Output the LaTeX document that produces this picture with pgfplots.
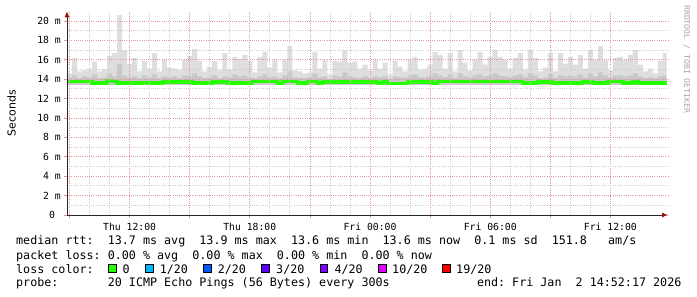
\documentclass[border=0pt]{standalone}
\usepackage{fontspec}
\usepackage{pgfplots}
\usepackage{pgfplotstable}
\pgfplotsset{compat=1.18}
\usetikzlibrary{arrows.meta}
\newfontfamily\monof{DejaVu Sans Mono}
\newfontfamily\sansf{DejaVu Sans}
\frenchspacing
\definecolor{gridred}{RGB}{228,150,150}
\definecolor{gridgray}{RGB}{205,205,205}
\definecolor{smokelight}{RGB}{222,222,222}
\definecolor{smokemid}{RGB}{200,200,200}
\definecolor{arrowred}{RGB}{150,20,20}
\definecolor{lossgreen}{HTML}{26FF00}
\definecolor{lossa}{HTML}{00B8FF}
\definecolor{lossb}{HTML}{0059FF}
\definecolor{lossc}{HTML}{5E00FF}
\definecolor{lossd}{HTML}{7E00FF}
\definecolor{losse}{HTML}{DD00FF}
\definecolor{lossf}{HTML}{FF0000}

\pgfplotstableread{
h top mid med
8.875 14.6 14.2 13.75
9.125 16.2 14.4 13.75
9.375 14.8 14.1 13.75
9.625 14.9 14.3 13.75
9.875 15.1 14.2 13.75
10.125 15.8 14.5 13.6
10.375 14.8 14.1 13.6
10.625 15.0 14.2 13.6
10.875 16.4 14.6 13.85
11.125 16.7 14.3 13.75
11.375 20.6 15.6 13.6
11.625 17.0 14.4 13.6
11.875 15.6 14.2 13.6
12.125 16.2 14.3 13.6
12.375 14.8 14.1 13.6
12.625 15.9 14.4 13.7
12.875 15.1 14.2 13.6
13.125 16.7 14.5 13.6
13.375 14.8 14.1 13.6
13.625 16.0 14.3 13.72
13.875 15.2 14.2 13.72
14.125 15.1 14.3 13.72
14.375 14.9 14.1 13.72
14.625 16.0 14.4 13.72
14.875 16.4 14.3 13.72
15.125 17.1 14.6 13.6
15.375 15.9 14.3 13.6
15.625 14.8 14.1 13.6
15.875 15.3 14.2 13.6
16.125 15.9 14.4 13.72
16.375 14.9 14.1 13.72
16.625 16.7 14.3 13.72
16.875 15.0 14.2 13.6
17.125 16.3 14.5 13.6
17.375 16.1 14.3 13.6
17.625 16.5 14.4 13.6
17.875 15.9 14.2 13.6
18.125 14.7 14.1 13.75
18.375 16.3 14.3 13.75
18.625 16.8 14.5 13.75
18.875 15.2 14.2 13.75
19.125 16.0 14.3 13.75
19.375 14.7 14.1 13.6
19.625 16.0 14.4 13.75
19.875 17.4 14.8 13.75
20.125 14.9 14.2 13.75
20.375 14.8 14.1 13.6
20.625 14.6 14.1 13.6
20.875 14.7 14.2 13.75
21.125 16.8 14.6 13.75
21.375 15.1 14.2 13.6
21.625 16.0 14.3 13.72
21.875 14.5 14.0 13.72
22.125 15.9 14.4 13.72
22.375 15.8 14.3 13.72
22.625 17.0 14.7 13.72
22.875 15.7 14.3 13.72
23.125 15.8 14.2 13.72
23.375 15.1 14.1 13.72
23.625 15.5 14.3 13.72
23.875 14.9 14.1 13.72
24.125 16.0 14.3 13.72
24.375 15.1 14.2 13.6
24.625 15.7 14.3 13.72
24.875 14.5 14.0 13.55
25.125 15.9 14.3 13.55
25.375 15.3 14.2 13.55
25.625 14.8 14.1 13.55
25.875 16.0 14.4 13.72
26.125 16.3 14.5 13.72
26.375 14.9 14.2 13.72
26.625 15.1 14.2 13.72
26.875 15.5 14.3 13.72
27.125 16.8 14.6 13.6
27.375 16.5 14.4 13.75
27.625 15.1 14.2 13.75
27.875 16.7 14.5 13.75
28.125 14.8 14.1 13.75
28.375 17.0 14.6 13.75
28.625 15.7 14.3 13.75
28.875 14.9 14.2 13.75
29.125 16.0 14.4 13.75
29.375 16.8 14.5 13.75
29.625 15.5 14.3 13.75
29.875 16.3 14.4 13.75
30.125 17.0 14.6 13.75
30.375 16.3 14.4 13.75
30.625 16.0 14.3 13.75
30.875 15.1 14.2 13.75
31.125 16.2 14.4 13.75
31.375 16.7 14.5 13.75
31.625 15.0 14.2 13.6
31.875 17.0 14.6 13.6
32.125 16.2 14.4 13.6
32.375 14.8 14.1 13.72
32.625 15.2 14.2 13.72
32.875 16.7 14.5 13.72
33.125 14.8 14.1 13.6
33.375 16.7 14.4 13.6
33.625 15.6 14.3 13.6
33.875 16.3 14.4 13.6
34.125 15.5 14.3 13.6
34.375 16.5 14.5 13.6
34.625 15.1 14.2 13.72
34.875 17.0 14.6 13.72
35.125 16.0 14.3 13.6
35.375 17.4 14.7 13.6
35.625 16.0 14.4 13.6
35.875 14.9 14.2 13.75
36.125 16.2 14.4 13.75
36.375 16.3 14.4 13.75
36.625 16.0 14.3 13.6
36.875 16.5 14.4 13.6
37.125 17.0 14.6 13.72
37.375 15.5 14.3 13.6
37.625 14.8 14.1 13.6
37.875 15.1 14.2 13.6
38.125 14.6 14.1 13.6
38.375 15.9 14.3 13.6
38.625 16.7 14.4 13.6
38.8 16.7 14.4 13.6
}\smoke

\newcommand\legfont{\monof\fontsize{11.75}{13}\selectfont}
\newcommand\tickfont{\monof\fontsize{9.8}{11}\selectfont}

\begin{document}
\begin{tikzpicture}
\useasboundingbox (0,0) rectangle (697bp,297bp);
\fill[white] (0,0) rectangle (697bp,297bp);
\begin{axis}[
  at={(67bp,82bp)}, anchor=south west,
  scale only axis, width=601bp, height=203.7bp,
  xmin=8.875, xmax=38.875, ymin=0, ymax=21,
  axis lines=left, axis on top,
  axis line style={black!85, line width=0.9bp, -{Latex[length=6bp,width=5bp,color=arrowred]}},
  grid=both,
  major grid style={gridred, line width=0.8bp, dash pattern=on 1bp off 1.2bp},
  minor grid style={gridgray, line width=0.8bp, dash pattern=on 1bp off 1.2bp},
  xtick={9,12,...,36},
  minor x tick num=2,
  xticklabels={,Thu 12:00,,Thu 18:00,,Fri 00:00,,Fri 06:00,,Fri 12:00},
  ytick={0,2,...,20},
  minor y tick num=1,
  yticklabels={0~~,2 m,4 m,6 m,8 m,10 m,12 m,14 m,16 m,18 m,20 m},
  tick align=outside,
  major tick length=3bp, minor tick length=0bp,
  major tick style={gridred, line width=0.8bp},
  xticklabel style={font=\tickfont, inner sep=0pt, yshift=-4.5bp, anchor=north},
  yticklabel style={font=\tickfont, inner sep=0pt, anchor=east, xshift=-3bp},
  clip=true,
]
\addplot[const plot, draw=none, fill=smokelight] table[x=h,y=top]{\smoke} \closedcycle;
\addplot[const plot, draw=none, fill=smokemid] table[x=h,y=mid]{\smoke} \closedcycle;
\addplot[draw=none, fill=white] coordinates {(8.875,13.45) (38.8,13.45)} \closedcycle;
\addplot[const plot, draw=lossgreen, line width=3.2bp] table[x=h,y=med]{\smoke};
\end{axis}

% y label and watermark
\node[rotate=90, font=\sansf\fontsize{11}{13}\selectfont, anchor=center] at (11.5bp,184bp) {Seconds};
\node[rotate=-90, font=\monof\fontsize{8.2}{10}\selectfont, text=black!35, anchor=base west, inner sep=0pt] at (684bp,292bp) {RRDTOOL / TOBI OETIKER};

% legend
\begin{scope}[every node/.style={anchor=base west, inner sep=0pt, font=\legfont}]
\node at (16bp,52bp) {median rtt:~~13.7 ms avg~~13.9 ms max~~13.6 ms min~~13.6 ms now~~0.1 ms sd~~151.8~~~am/s};
\node at (16bp,37.7bp) {packet loss: 0.00 \% avg~~0.00 \% max~~0.00 \% min~~0.00 \% now};
\node at (16bp,23.7bp) {loss color:};
\node at (122.3bp,23.7bp) {0};
\node at (159.6bp,23.7bp) {1/20};
\node at (217.6bp,23.7bp) {2/20};
\node at (276bp,23.7bp) {3/20};
\node at (334.3bp,23.7bp) {4/20};
\node at (392bp,23.7bp) {10/20};
\node at (456bp,23.7bp) {19/20};
\node at (16bp,10.3bp) {probe:~~~~~~~20 ICMP Echo Pings (56 Bytes) every 300s};
\node at (476.8bp,10.3bp) {end: Fri Jan~~2 14:52:17 2026};
\end{scope}
\foreach \xx/\cc in {108.7/lossgreen,145.7/lossa,203.3/lossb,261.7/lossc,320/lossd,378.3/losse,442.3/lossf}{
  \filldraw[fill=\cc, draw=black, line width=0.8bp] (\xx bp,24.2bp) rectangle ++(7.6bp,8bp);
}
\end{tikzpicture}
\end{document}
